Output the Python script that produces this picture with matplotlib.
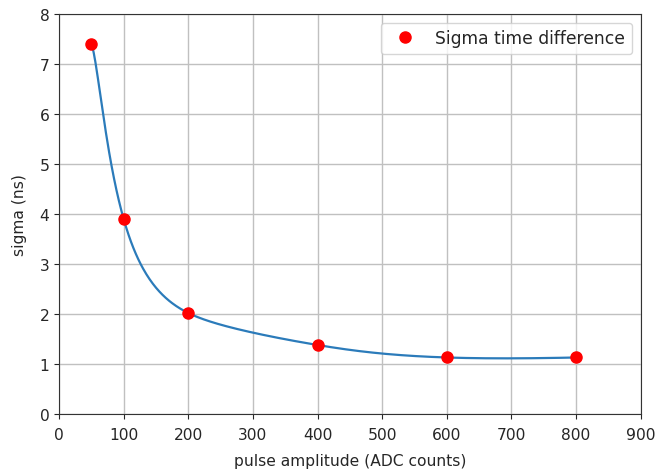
import numpy as np
import matplotlib
matplotlib.use("Agg")
import matplotlib.pyplot as plt

amplitude = [50, 100, 200, 400, 600, 800]
sigma = [7.4, 3.9, 2.02, 1.38, 1.13, 1.13]
x_ticks = [0, 100, 200, 300, 400, 500, 600, 700, 800, 900]
y_ticks = [0, 1, 2, 3, 4, 5, 6, 7, 8]


def not_a_knot_spline(x, y, xs):
    o = np.argsort(x)
    x = np.asarray(x, float)[o]
    y = np.asarray(y, float)[o]
    n = len(x)
    m = n - 1
    A = np.zeros((4 * m, 4 * m))
    b = np.zeros(4 * m)
    r = 0
    for i in range(m):
        h = x[i + 1] - x[i]
        A[r, 4 * i] = 1; b[r] = y[i]; r += 1
        A[r, 4 * i:4 * i + 4] = [1, h, h ** 2, h ** 3]; b[r] = y[i + 1]; r += 1
    for i in range(m - 1):
        h = x[i + 1] - x[i]
        A[r, 4 * i:4 * i + 4] = [0, 1, 2 * h, 3 * h ** 2]
        A[r, 4 * (i + 1) + 1] = -1; r += 1
        A[r, 4 * i:4 * i + 4] = [0, 0, 2, 6 * h]
        A[r, 4 * (i + 1) + 2] = -2; r += 1
    A[r, 3] = 1; A[r, 7] = -1; r += 1
    A[r, 4 * (m - 2) + 3] = 1; A[r, 4 * (m - 1) + 3] = -1; r += 1
    coef = np.linalg.solve(A, b).reshape(m, 4)
    idx = np.clip(np.searchsorted(x, xs) - 1, 0, m - 1)
    t = xs - x[idx]
    c = coef[idx]
    return c[:, 0] + c[:, 1] * t + c[:, 2] * t ** 2 + c[:, 3] * t ** 3


plt.rcParams['font.family'] = ['DejaVu Sans']
text_color = '#262626'

fig = plt.figure(figsize=(6.58, 4.77), dpi=100)
ax = fig.add_axes([0.0897, 0.13, 0.884, 0.8386])

amp = np.asarray(amplitude, float)
xs = np.linspace(amp.min(), amp.max(), 600)
curve = not_a_knot_spline(1.0 / amp, sigma, 1.0 / xs)
ax.plot(xs, curve, color='#2b7bba', lw=1.6, zorder=2)
ax.plot(amplitude, sigma, 'o', color='red', markersize=8, label='Sigma time difference', zorder=3)

ax.set_xlim(0, 900)
ax.set_ylim(0, 8)
ax.set_xticks(x_ticks)
ax.set_yticks(y_ticks)
ax.tick_params(labelsize=11.2, labelcolor=text_color, color=text_color)
ax.tick_params(axis='x', pad=6)
ax.grid(True, color='#c0c0c0', lw=1.0)
ax.set_axisbelow(True)
for s in ax.spines.values():
    s.set_color('#333333')
ax.set_xlabel('pulse amplitude (ADC counts)', fontsize=11.2, color=text_color, labelpad=8)
ax.set_ylabel('sigma (ns)', fontsize=11.2, color=text_color, labelpad=9)
leg = ax.legend(loc='upper right', prop={'size': 12.3}, borderaxespad=0.5)
for t in leg.get_texts():
    t.set_color(text_color)

fig.savefig('out.png', dpi=100)
